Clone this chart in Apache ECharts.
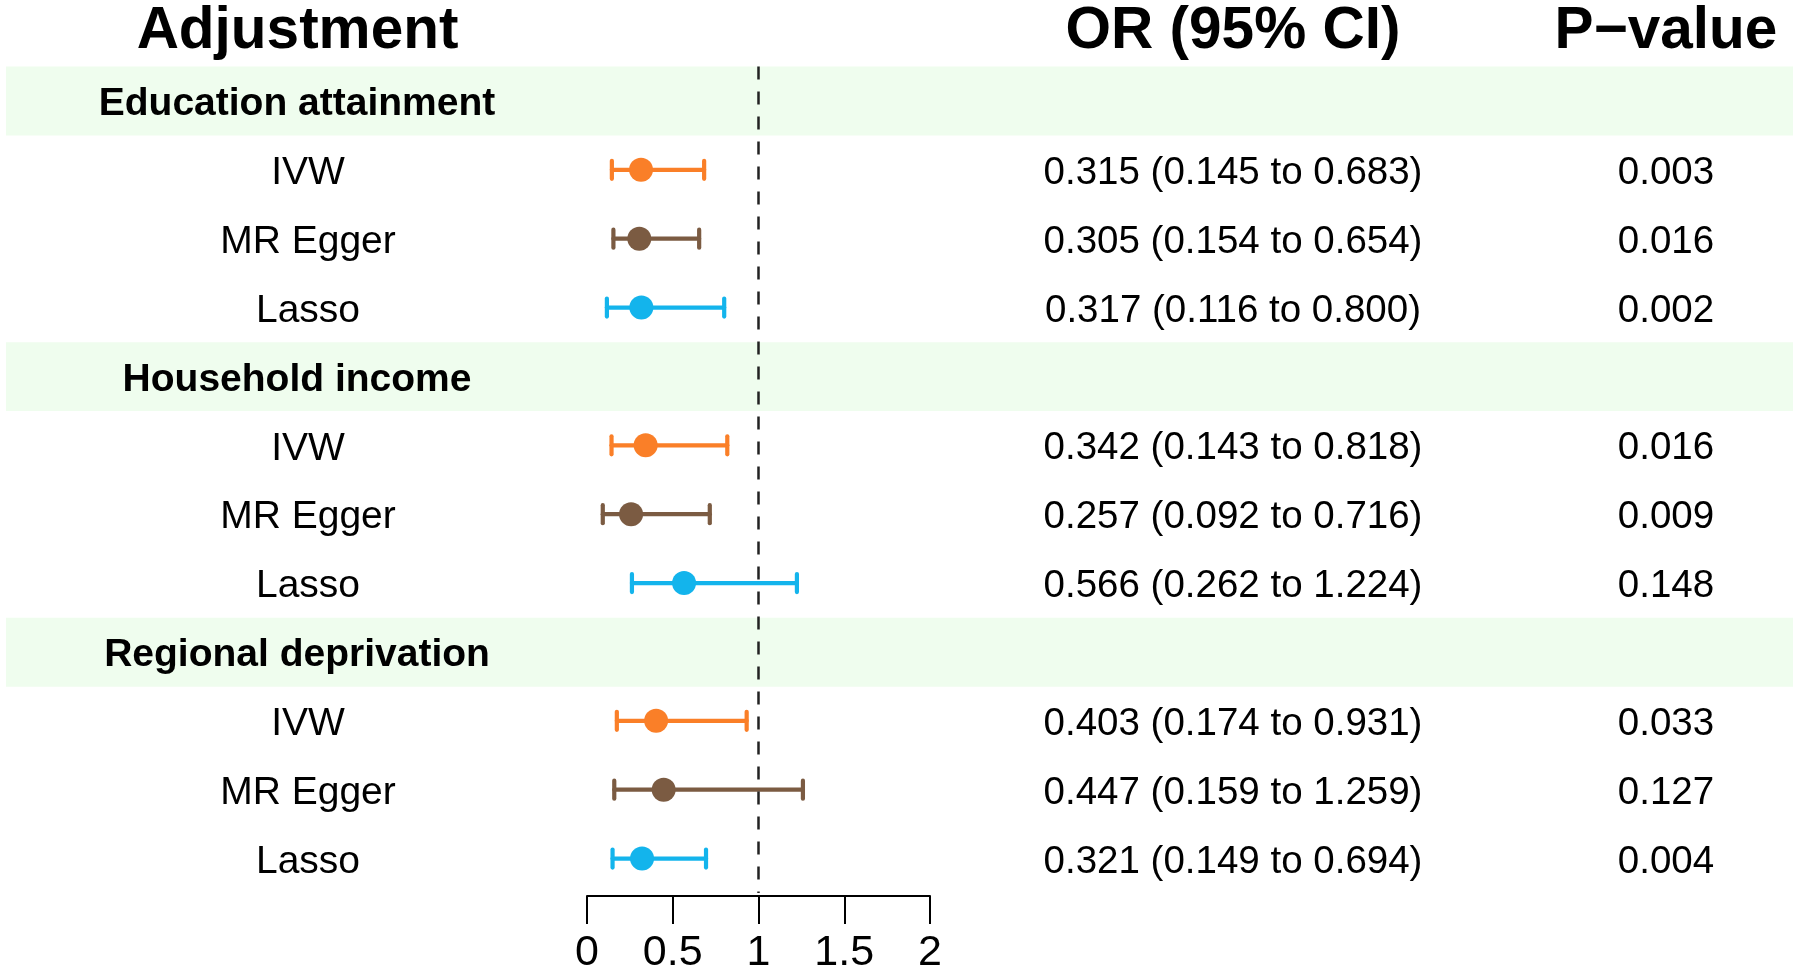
<!DOCTYPE html>
<html>
<head>
<meta charset="utf-8">
<title>Forest plot</title>
<script src="https://cdn.jsdelivr.net/npm/echarts@6/dist/echarts.min.js"></script>
<style>
  html, body { margin: 0; padding: 0; background: #fff; }
  #chart { width: 1800px; height: 975px; }
</style>
</head>
<body>
<div id="chart"></div>
<script>
// data
var groups = ['Education attainment', 'Household income', 'Regional deprivation'];
var methods = ['IVW', 'MR Egger', 'Lasso'];
var methodColors = ['#FA7F28', '#7B5B42', '#13B4EC'];

// one value per group x method, in reading order
var orValues = [0.315, 0.305, 0.317, 0.342, 0.257, 0.566, 0.403, 0.447, 0.321];
var lowerCI  = [0.145, 0.154, 0.116, 0.143, 0.092, 0.262, 0.174, 0.159, 0.149];
var upperCI  = [0.683, 0.654, 0.800, 0.818, 0.716, 1.224, 0.931, 1.259, 0.694];
var pValues  = ['0.003', '0.016', '0.002', '0.016', '0.009', '0.148', '0.033', '0.127', '0.004'];

var xTicks = [0, 0.5, 1, 1.5, 2];

// build table rows: a header row per group, then a row per method
var rowKeys = [];
var rowLeft = [];
var rowOr = [];
var rowP = [];
var rowIsHeader = [];
var pointData = [];
var barData = [];
var bandData = [];

var k = 0;
groups.forEach(function (g, gi) {
  var key = 'r' + rowKeys.length;
  rowKeys.push(key);
  rowLeft.push(g);
  rowOr.push('');
  rowP.push('');
  rowIsHeader.push(true);
  bandData.push(1);
  methods.forEach(function (m, mi) {
    var key2 = 'r' + rowKeys.length;
    rowKeys.push(key2);
    rowLeft.push(m);
    rowOr.push(orValues[k].toFixed(3) + ' (' + lowerCI[k].toFixed(3) + ' to ' + upperCI[k].toFixed(3) + ')');
    rowP.push(pValues[k]);
    rowIsHeader.push(false);
    bandData.push('-');
    pointData.push({ value: [orValues[k], key2], itemStyle: { color: methodColors[mi], opacity: 1 } });
    barData.push([lowerCI[k], upperCI[k], key2, mi]);
    k++;
  });
});

var FONT = "'Liberation Sans', Arial, sans-serif";

var chart = echarts.init(document.getElementById('chart'));

function renderErrorBar(params, api) {
  var row = api.value(2);
  var p1 = api.coord([api.value(0), row]);
  var p2 = api.coord([api.value(1), row]);
  var color = methodColors[api.value(3)];
  var capH = 9;
  var style = { stroke: color, lineWidth: 4.2, lineCap: 'round' };
  return {
    type: 'group',
    children: [
      { type: 'line', shape: { x1: p1[0], y1: p1[1], x2: p2[0], y2: p2[1] }, style: style },
      { type: 'line', shape: { x1: p1[0], y1: p1[1] - capH, x2: p1[0], y2: p1[1] + capH }, style: style },
      { type: 'line', shape: { x1: p2[0], y1: p2[1] - capH, x2: p2[0], y2: p2[1] + capH }, style: style }
    ]
  };
}

var titleStyle = function (txt) {
  return { text: txt, font: 'bold 58.5px ' + FONT, fill: '#000', textAlign: 'center', textVerticalAlign: 'middle' };
};

var cellRich = {
  t: { fontSize: 38.5, color: '#000', fontFamily: FONT, padding: [7, 0, 0, 0] }
};

var option = {
  animation: false,
  backgroundColor: '#fff',
  textStyle: { fontFamily: FONT },
  graphic: [
    { type: 'text', x: 297.5, y: 31.5, z: 10, style: titleStyle('Adjustment') },
    { type: 'text', x: 1233, y: 31.5, z: 10, style: titleStyle('OR (95% CI)') },
    { type: 'text', x: 1666, y: 31.5, z: 10, style: titleStyle('P\u2212value') }
  ],
  grid: [
    { left: 587, right: 870, top: 66.5, height: 827 },
    { left: 6, right: 7, top: 66.5, height: 827 }
  ],
  xAxis: [
    {
      type: 'value', gridIndex: 0, min: 0, max: 2, interval: 0.5, offset: 3,
      axisLine: { show: true, lineStyle: { color: '#000', width: 2 } },
      axisTick: { show: true, length: 28, lineStyle: { color: '#000', width: 2 } },
      splitLine: { show: false },
      axisLabel: { fontSize: 43, color: '#000', margin: 36, fontFamily: FONT,
        formatter: function (v) { return xTicks.indexOf(v) >= 0 ? String(v) : ''; } }
    },
    { type: 'value', gridIndex: 1, min: 0, max: 1, show: false }
  ],
  yAxis: [
    {
      type: 'category', gridIndex: 0, data: rowKeys, inverse: true, z: 10,
      axisLine: { show: false }, axisTick: { show: false }, splitLine: { show: false },
      axisLabel: {
        interval: 0, margin: 279, align: 'center', color: '#000',
        formatter: function (v, i) {
          return rowIsHeader[i] ? '{h|' + rowLeft[i] + '}' : '{m|' + rowLeft[i] + '}';
        },
        rich: {
          h: { fontSize: 39, fontWeight: 'bold', color: '#000', fontFamily: FONT, padding: [7, 22, 0, 0] },
          m: { fontSize: 39, color: '#000', fontFamily: FONT, padding: [7, 0, 0, 0] }
        }
      }
    },
    {
      type: 'category', gridIndex: 0, data: rowKeys, inverse: true, position: 'right', z: 10,
      axisLine: { show: false }, axisTick: { show: false }, splitLine: { show: false },
      axisLabel: {
        interval: 0, margin: 303, align: 'center', color: '#000', rich: cellRich,
        formatter: function (v, i) { return rowOr[i] ? '{t|' + rowOr[i] + '}' : ''; }
      }
    },
    {
      type: 'category', gridIndex: 0, data: rowKeys, inverse: true, position: 'right', offset: 736, z: 10,
      axisLine: { show: false }, axisTick: { show: false }, splitLine: { show: false },
      axisLabel: {
        interval: 0, margin: 0, align: 'center', color: '#000', rich: cellRich,
        formatter: function (v, i) { return rowP[i] ? '{t|' + rowP[i] + '}' : ''; }
      }
    },
    { type: 'category', gridIndex: 1, data: rowKeys, inverse: true, show: false }
  ],
  series: [
    {
      type: 'bar', xAxisIndex: 1, yAxisIndex: 3, data: bandData,
      barWidth: '100%', silent: true, z: -5,
      itemStyle: { color: '#EFFDEE' }
    },
    {
      type: 'custom', xAxisIndex: 0, yAxisIndex: 0, data: barData,
      renderItem: renderErrorBar, encode: { x: [0, 1], y: 2 }, z: 3, silent: true
    },
    {
      type: 'scatter', xAxisIndex: 0, yAxisIndex: 0, data: pointData,
      symbol: 'circle', symbolSize: 24, z: 4, silent: true,
      markLine: {
        silent: true, symbol: 'none', label: { show: false },
        lineStyle: { color: '#222', width: 2.5, type: [13, 12], opacity: 1 },
        data: [{ xAxis: 1 }]
      }
    }
  ]
};

chart.setOption(option);
</script>
</body>
</html>
